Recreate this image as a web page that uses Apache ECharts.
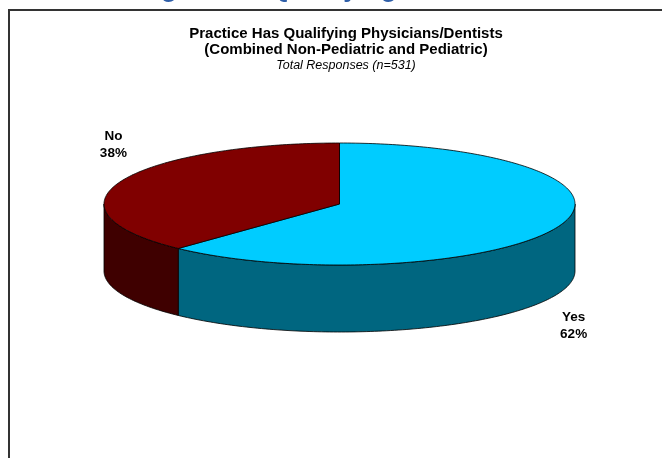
<!DOCTYPE html>
<html>
<head>
<meta charset="utf-8">
<script src="https://cdn.jsdelivr.net/npm/echarts@6/dist/echarts.min.js"></script>
<style>
  html, body { margin: 0; padding: 0; background: #fff; }
  #chart { width: 662px; height: 458px; }
</style>
</head>
<body>
<div id="chart"></div>
<script>
// Survey answers and their shares (percent of respondents)
const categories = ['Yes', 'No'];
const shares = [62, 38];

// Face and wall colours for each slice
const topColors = ['#00CCFF', '#800000'];
const wallColors = ['#006680', '#3F0000'];

// Ellipse layout of the tilted pie
const CX = 339.5, CY = 204, RX = 235.5, RY = 61, DEPTH = 67;
const total = shares.reduce((a, b) => a + b, 0);

// angle in degrees, clockwise from 12 o'clock
function rim(deg, dy) {
  const t = deg * Math.PI / 180;
  return [CX + RX * Math.sin(t), CY - RY * Math.cos(t) + (dy || 0)];
}
function arc(a0, a1, dy) {
  const pts = [];
  const n = Math.max(2, Math.ceil(Math.abs(a1 - a0)));
  for (let k = 0; k <= n; k++) pts.push(rim(a0 + (a1 - a0) * k / n, dy));
  return pts;
}

function renderItem(params, api) {
  const i = params.dataIndex;
  let before = 0;
  for (let k = 0; k < i; k++) before += shares[k];
  const value = api.value(0);
  const a0 = before / total * 360;
  const a1 = (before + value) / total * 360;
  const children = [];

  // outer wall: only the front half (90..270 deg) faces the viewer
  const s = Math.max(a0, 90), e = Math.min(a1, 270);
  if (e > s) {
    const top = arc(s, e, 0);
    const bottom = arc(e, s, DEPTH);
    children.push({
      type: 'polygon',
      z2: 1,
      shape: { points: top.concat(bottom) },
      style: { fill: wallColors[i], stroke: '#000', lineWidth: 0.8 }
    });
  }

  // top face
  children.push({
    type: 'polygon',
    z2: 2,
    shape: { points: [[CX, CY]].concat(arc(a0, a1, 0)) },
    style: { fill: topColors[i], stroke: '#000', lineWidth: 0.8 }
  });

  // data label, placed just outside the rim
  const mid = (a0 + a1) / 2;
  const t = mid * Math.PI / 180;
  const front = Math.cos(t) < 0;
  const lx = CX + 4 + (RX + 12) * Math.sin(t);
  const ly = CY - (RY + 100) * Math.cos(t) + (front ? DEPTH - 4 : 0);
  children.push({
    type: 'text',
    z2: 3,
    style: {
      x: lx, y: ly,
      text: categories[i] + '\n' + value + '%',
      font: 'bold 13.5px "Liberation Sans", Arial, sans-serif',
      fill: '#000',
      align: 'center',
      verticalAlign: 'middle',
      lineHeight: 17
    }
  });

  return { type: 'group', children: children };
}

const chart = echarts.init(document.getElementById('chart'), null, { renderer: 'canvas' });
chart.setOption({
  backgroundColor: '#fff',
  animation: false,
  graphic: [
    // figure heading, running off the top of the page
    {
      type: 'text', x: 138, y: -10,
      style: {
        text: 'Figure 10: Qualifying',
        font: 'bold 26px "Liberation Sans", Arial, sans-serif',
        fill: '#2E5EA8', align: 'left', verticalAlign: 'middle'
      }
    },
    // chart frame
    { type: 'line', shape: { x1: 8, y1: 10, x2: 662, y2: 10 }, style: { stroke: '#333', lineWidth: 2 } },
    { type: 'line', shape: { x1: 9, y1: 10, x2: 9, y2: 458 }, style: { stroke: '#333', lineWidth: 2 } },
    // chart titles
    {
      type: 'text', x: 346, y: 34,
      style: {
        text: 'Practice Has Qualifying Physicians/Dentists',
        font: 'bold 15px "Liberation Sans", Arial, sans-serif',
        fill: '#000', align: 'center', verticalAlign: 'middle'
      }
    },
    {
      type: 'text', x: 346, y: 50,
      style: {
        text: '(Combined Non-Pediatric and Pediatric)',
        font: 'bold 15px "Liberation Sans", Arial, sans-serif',
        fill: '#000', align: 'center', verticalAlign: 'middle'
      }
    },
    {
      type: 'text', x: 346, y: 66,
      style: {
        text: 'Total Responses (n=531)',
        font: 'italic 12.5px "Liberation Sans", Arial, sans-serif',
        fill: '#000', align: 'center', verticalAlign: 'middle'
      }
    }
  ],
  series: [{
    type: 'custom',
    coordinateSystem: 'none',
    renderItem: renderItem,
    data: categories.map((c, i) => ({ name: c, value: [shares[i]] }))
  }]
});
</script>
</body>
</html>
